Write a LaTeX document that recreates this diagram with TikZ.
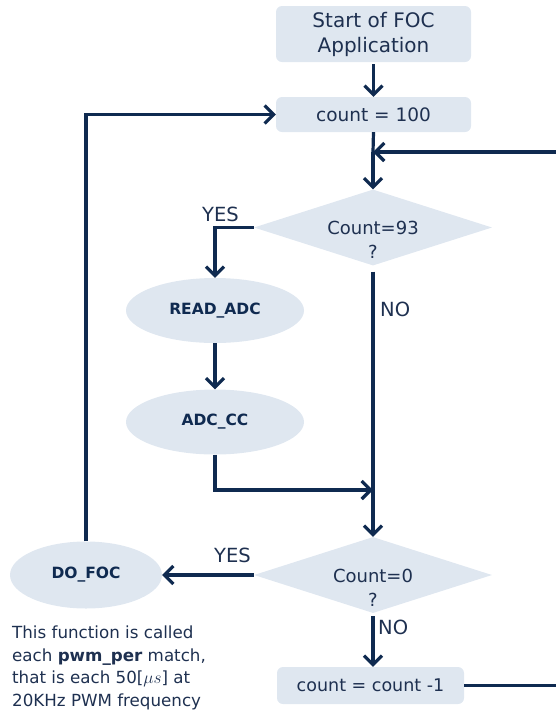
\documentclass[tikz,border=0pt]{standalone}
\usepackage{fontspec}
\setmainfont{DejaVu Sans}
\usetikzlibrary{arrows.meta,shapes.geometric}
\definecolor{boxfill}{HTML}{DFE7F0}
\definecolor{navy}{HTML}{0F2A50}
\definecolor{txt}{HTML}{1E3050}
\tikzset{
  rbox/.style={draw=none,fill=boxfill,rounded corners=6pt,inner sep=0pt,text=txt,align=center},
  ell/.style={ellipse,fill=boxfill,inner sep=0pt,text=navy,font=\fontsize{15.5}{18}\selectfont\bfseries},
  dia/.style={diamond,fill=boxfill,inner sep=0pt,minimum width=238pt,minimum height=76pt},
  dtext/.style={text=txt,align=center,font=\fontsize{18}{24}\selectfont,inner sep=0pt},
  lab/.style={text=txt,font=\fontsize{19.5}{22}\selectfont,inner sep=0pt},
  conn/.style={draw=navy,line width=3.2pt},
  arr/.style={conn,-{Straight Barb[length=9pt,width=18pt]}},
}
\begin{document}
\begin{tikzpicture}[x=1pt,y=-1pt]
\useasboundingbox (0,0) rectangle (555,713);
% boxes
\node[rbox,minimum width=195pt,minimum height=56pt,font=\fontsize{20}{25}\selectfont] (start) at (373.5,34) {Start of FOC\\Application};
\node[rbox,minimum width=195pt,minimum height=35pt,font=\fontsize{18.5}{22}\selectfont] (c100) at (373.5,114.5) {count = 100};
\node[dia] (d1) at (373,227.5) {};
\node[dtext] (d1t) at (373,240) {Count=93\\?};
\node[ell,minimum width=178pt,minimum height=65pt] (rd) at (215,310.5) {READ\_ADC};
\node[ell,minimum width=178pt,minimum height=65pt] (adc) at (215,422) {ADC\_CC};
\node[dia] (d2) at (373,575) {};
\node[dtext] (d2t) at (373,588) {Count=0\\?};
\node[ell,minimum width=152pt,minimum height=67pt] (foc) at (86,575) {DO\_FOC};
\node[rbox,minimum width=187pt,minimum height=37pt,font=\fontsize{17.5}{22}\selectfont] (cm1) at (370.5,685.5) {count = count -1};
% labels
\node[lab,anchor=south west] (yes1) at (202,222) {YES};
\node[lab,anchor=west] (no1) at (380,309) {NO};
\node[lab,anchor=south west] (yes2) at (214,563) {YES};
\node[lab,anchor=west] (no2) at (378,627) {NO};
\node[text=txt,align=left,anchor=north west,inner sep=0pt,font=\fontsize{16.7}{22.5}\selectfont] (note) at (12,626)
  {This function is called\\each \textbf{pwm\_per} match,\\that is each 50[$\mu s$] at\\20KHz PWM frequency};
% coordinates
\coordinate (j1) at (373,152);
\coordinate (rt) at (560,152);
\coordinate (rb) at (560,686);
\coordinate (j2) at (373,490);
% connectors
\draw[arr] (start.south) ++(0,2) -- (c100.north);
\draw[conn] (c100.south) -- (j1);
\draw[arr] (j1) -- (d1.north);
\draw[arr] (rt) -- (j1);
\draw[arr] (d1.west) -| (rd.north);
\draw[arr] (rd.south) -- (adc.north);
\draw[arr] (adc.south) |- (j2);
\draw[arr] ([yshift=-6pt]d1.south) -- (d2.north);
\draw[arr] (d2.west) -- (foc.east);
\draw[arr] (foc.north) |- (c100.west);
\draw[arr] ([yshift=-3pt]d2.south) -- (d2.south |- cm1.north);
\draw[conn] (cm1.east) -- (cm1.east -| rb);
\draw[conn] (rb) -- (rt);
\end{tikzpicture}
\end{document}
